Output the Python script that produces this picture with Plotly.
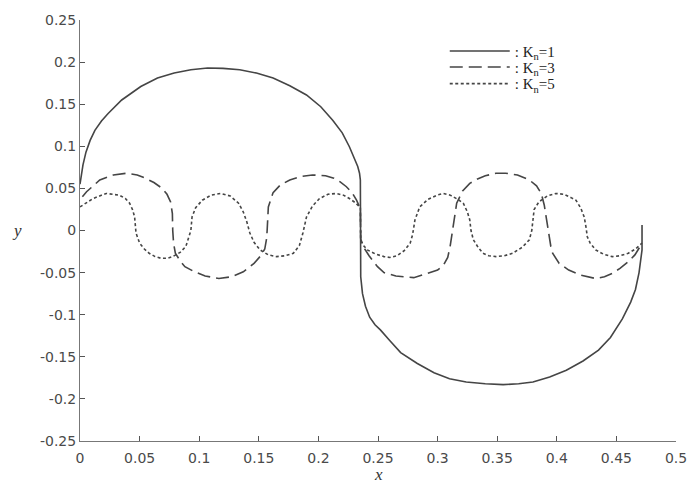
import plotly.graph_objects as go

# ---- data ----
x_kn1 = [0.0, 0.001, 0.0025, 0.005, 0.0085, 0.0125, 0.018, 0.0236, 0.035, 0.051, 0.065, 0.079,
         0.093, 0.107, 0.12, 0.134, 0.148, 0.162, 0.176, 0.19, 0.202, 0.212, 0.22, 0.226, 0.2305,
         0.233, 0.2345, 0.2352,
         0.2355, 0.237, 0.2395, 0.243, 0.2475, 0.252, 0.26, 0.269, 0.283, 0.297, 0.31, 0.324, 0.34,
         0.355, 0.368, 0.38, 0.394, 0.408, 0.422, 0.435, 0.445, 0.455, 0.462, 0.466, 0.469, 0.4712,
         0.4715, 0.4715]
y_kn1 = [0.055, 0.065, 0.078, 0.093, 0.107, 0.119, 0.13, 0.139, 0.155, 0.171, 0.181, 0.187,
         0.191, 0.193, 0.1925, 0.191, 0.187, 0.181, 0.172, 0.161, 0.147, 0.131, 0.116, 0.0995, 0.085,
         0.076, 0.068, 0.06,
         -0.055, -0.075, -0.09, -0.103, -0.112, -0.118, -0.131, -0.145, -0.158, -0.169, -0.176, -0.18,
         -0.182, -0.183, -0.182, -0.18, -0.174, -0.166, -0.155, -0.142, -0.127, -0.105, -0.085, -0.07,
         -0.05, -0.03, -0.023, 0.0065]

x_kn3 = [0.002, 0.0055, 0.0166, 0.028, 0.039, 0.048, 0.055, 0.062, 0.069, 0.073, 0.076, 0.0775,
         0.0778, 0.0785, 0.08, 0.084, 0.088, 0.096, 0.105, 0.1165, 0.127, 0.137, 0.146, 0.151, 0.155,
         0.1565, 0.157, 0.1575, 0.158, 0.162, 0.168, 0.176, 0.185, 0.195, 0.206, 0.213, 0.218, 0.2235,
         0.2285, 0.232, 0.2352,
         0.2355, 0.238, 0.2425, 0.2496, 0.255, 0.265, 0.28, 0.294, 0.3, 0.305, 0.3085, 0.3105, 0.3125,
         0.3134, 0.316, 0.321, 0.327, 0.333, 0.34, 0.349, 0.357, 0.367, 0.377, 0.383, 0.387, 0.3895,
         0.391, 0.392, 0.3935, 0.395, 0.3965, 0.402, 0.41, 0.42, 0.4326, 0.44, 0.4465, 0.453, 0.46,
         0.4655, 0.4695, 0.4715]
y_kn3 = [0.040, 0.046, 0.060, 0.066, 0.068, 0.066, 0.062, 0.057, 0.050, 0.043, 0.034, 0.02,
         0.0, -0.015, -0.027, -0.036, -0.043, -0.049, -0.054, -0.057, -0.055, -0.049, -0.039, -0.031,
         -0.022, -0.01, 0.0, 0.015, 0.028, 0.045, 0.054, 0.060, 0.064, 0.066, 0.065, 0.062, 0.058,
         0.052, 0.0445, 0.036, 0.026,
         -0.01, -0.02, -0.03, -0.043, -0.05, -0.054, -0.056, -0.05, -0.047, -0.041, -0.032, -0.019,
         0.0, 0.0125, 0.0325, 0.047, 0.056, 0.061, 0.065, 0.068, 0.068, 0.066, 0.060, 0.053, 0.044,
         0.03, 0.015, 0.005, -0.008, -0.019, -0.027, -0.039, -0.047, -0.053, -0.057, -0.055, -0.051,
         -0.045, -0.037, -0.029, -0.02, -0.015]

x_kn5 = [0.0, 0.005, 0.011, 0.022, 0.033, 0.038, 0.0416, 0.044, 0.0458, 0.0465, 0.047, 0.05, 0.054,
         0.058, 0.063, 0.068, 0.0735, 0.0777, 0.084, 0.0888, 0.091, 0.093, 0.094, 0.097, 0.1026, 0.11,
         0.118, 0.126, 0.133, 0.137, 0.14, 0.1425, 0.146, 0.151, 0.158, 0.165, 0.172, 0.179, 0.184,
         0.187, 0.19, 0.195, 0.201, 0.208, 0.215, 0.221, 0.226, 0.231, 0.2352,
         0.2355, 0.238, 0.241, 0.248, 0.255, 0.26, 0.266, 0.272, 0.277, 0.279, 0.281, 0.285, 0.292,
         0.2995, 0.305, 0.3106, 0.317, 0.3217, 0.325, 0.327, 0.328, 0.33, 0.334, 0.338, 0.343, 0.349,
         0.356, 0.363, 0.371, 0.377, 0.379, 0.38, 0.381, 0.385, 0.392, 0.3993, 0.406, 0.412, 0.416,
         0.42, 0.423, 0.4245, 0.4256, 0.428, 0.4326, 0.439, 0.4465, 0.453, 0.46, 0.466, 0.4715]
y_kn5 = [0.028, 0.033, 0.038, 0.044, 0.042, 0.038, 0.0325, 0.025, 0.0164, 0.005, -0.003, -0.015,
         -0.022, -0.027, -0.031, -0.033, -0.033, -0.031, -0.026, -0.019, -0.01, 0.0, 0.016, 0.027,
         0.036, 0.042, 0.044, 0.041, 0.0325, 0.022, 0.01, -0.003, -0.014, -0.023, -0.029, -0.031,
         -0.030, -0.027, -0.018, -0.003, 0.016, 0.029, 0.038, 0.043, 0.044, 0.042, 0.038, 0.033, 0.027,
         -0.012, -0.018, -0.023, -0.028, -0.031, -0.032, -0.030, -0.024, -0.015, -0.005, 0.0125, 0.028,
         0.037, 0.042, 0.044, 0.042, 0.037, 0.032, 0.022, 0.0125, 0.0, -0.011, -0.02, -0.027, -0.03,
         -0.031, -0.030, -0.027, -0.02, -0.011, 0.0, 0.0125, 0.025, 0.034, 0.041, 0.044, 0.043, 0.039,
         0.036, 0.027, 0.016, 0.004, -0.0074, -0.015, -0.023, -0.028, -0.031, -0.030, -0.027, -0.022,
         -0.015]

series_names = [": K<sub>n</sub>=1", ": K<sub>n</sub>=3", ": K<sub>n</sub>=5"]

x_tickvals = [0, 0.05, 0.1, 0.15, 0.2, 0.25, 0.3, 0.35, 0.4, 0.45, 0.5]
x_ticktext = ["0", "0.05", "0.1", "0.15", "0.2", "0.25", "0.3", "0.35", "0.4", "0.45", "0.5"]
y_tickvals = [-0.25, -0.2, -0.15, -0.1, -0.05, 0, 0.05, 0.1, 0.15, 0.2, 0.25]
y_ticktext = ["-0.25", "-0.2", "-0.15", "-0.1", "-0.05", "0", "0.05", "0.1", "0.15", "0.2", "0.25"]

line_color = "#454545"

fig = go.Figure()
fig.add_trace(go.Scatter(x=x_kn1, y=y_kn1, mode="lines", name=series_names[0], legend="legend",
                         line=dict(color=line_color, width=1.6, dash="solid")))
fig.add_trace(go.Scatter(x=x_kn3, y=y_kn3, mode="lines", name=series_names[1], legend="legend2",
                         line=dict(color=line_color, width=1.6, dash="13px,6px")))
fig.add_trace(go.Scatter(x=x_kn5, y=y_kn5, mode="lines", name=series_names[2], legend="legend3",
                         line=dict(color=line_color, width=1.6, dash="3px,2.5px")))

legend_style = dict(x=0.612, xanchor="left", yanchor="top",
                    bgcolor="rgba(0,0,0,0)", borderwidth=0, itemwidth=60,
                    font=dict(family="Liberation Serif", size=15, color="#222"))

tick_font = dict(family="DejaVu Sans", size=14, color="#4a4a4a")
fig.update_layout(
    width=699, height=484,
    margin=dict(l=80, r=18, t=20, b=43),
    paper_bgcolor="white", plot_bgcolor="white",
    showlegend=True,
    legend=dict(y=0.965, **legend_style),
    legend2=dict(y=0.927, **legend_style),
    legend3=dict(y=0.8875, **legend_style),
    xaxis=dict(range=[0, 0.5], tickvals=x_tickvals, ticktext=x_ticktext,
               showgrid=False, zeroline=False, showline=True, linecolor="#777", linewidth=1,
               ticks="inside", ticklen=5, tickcolor="#555", tickfont=tick_font,
               ticklabelstandoff=4),
    yaxis=dict(range=[-0.25, 0.25], tickvals=y_tickvals, ticktext=y_ticktext,
               showgrid=False, zeroline=False, showline=True, linecolor="#777", linewidth=1,
               ticks="inside", ticklen=5, tickcolor="#555", tickfont=tick_font),
    annotations=[
        dict(text="<i>x</i>", xref="paper", yref="paper", x=0.5, y=-0.08, showarrow=False,
             xanchor="center", yanchor="middle",
             font=dict(family="Liberation Serif", size=17, color="#333")),
        dict(text="<i>y</i>", xref="paper", yref="paper", x=-0.105, y=0.5, showarrow=False,
             xanchor="center", yanchor="middle",
             font=dict(family="Liberation Serif", size=17, color="#333")),
    ],
)

fig.write_html("out.html")
